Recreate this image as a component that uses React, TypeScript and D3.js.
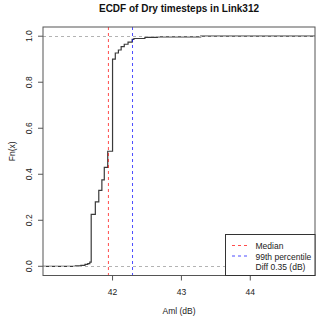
import React, { useEffect, useRef } from 'react';
import * as d3 from 'd3';

// ECDF knots (Aml, dB) and Fn(x) after each step
const knots = [41.46, 41.54, 41.6, 41.64, 41.67, 41.69, 41.75, 41.8, 41.845, 41.88, 41.93, 42.0, 42.04, 42.085, 42.125, 42.17, 42.225, 42.285, 42.31, 42.47, 42.65, 43.28];
const fnValues = [0.002, 0.004, 0.008, 0.012, 0.018, 0.226, 0.28, 0.33, 0.376, 0.43, 0.5, 0.9, 0.927, 0.94, 0.955, 0.965, 0.974, 0.986, 0.99, 0.995, 0.997, 1.0];

const xTicks = [42, 43, 44];
const yTicks = [0, 0.2, 0.4, 0.6, 0.8, 1.0];

const median = 41.94;
const p99 = 42.29;

const legendLabels = ['Median', '99th percentile', 'Diff 0.35 (dB)'];
const legendColors = ['red', 'blue', null];

const W = 320;
const H = 321;
const FONT = '"Liberation Sans", Arial, Helvetica, sans-serif';

const App = () => {
  const ref = useRef<HTMLDivElement>(null);

  useEffect(() => {
    document.body.style.margin = '0';
    const root = d3.select(ref.current);
    root.selectAll('*').remove();

    const svg = root.append('svg')
      .attr('width', W)
      .attr('height', H)
      .style('display', 'block')
      .style('font-family', FONT);

    const left = 43, right = 315, top = 27, bottom = 275.5;

    const x = d3.scaleLinear().domain([40.99, 44.94]).range([left, right]);
    const y = d3.scaleLinear().domain([-0.04, 1.04]).range([bottom, top]);

    // title
    svg.append('text')
      .attr('x', (left + right) / 2)
      .attr('y', 11.5)
      .attr('text-anchor', 'middle')
      .attr('font-weight', 'bold')
      .attr('font-size', 10)
      .attr('fill', '#111')
      .text('ECDF of Dry timesteps in Link312');

    // ecdf step line
    const pts: [number, number][] = [[x.domain()[0], 0]];
    knots.forEach((k, i) => pts.push([k, fnValues[i]]));
    pts.push([x.domain()[1], 1]);

    const line = d3.line<[number, number]>()
      .x(d => x(d[0]))
      .y(d => y(d[1]))
      .curve(d3.curveStepAfter);

    svg.append('path')
      .attr('d', line(pts))
      .attr('fill', 'none')
      .attr('stroke', '#3a3a3a')
      .attr('stroke-width', 1.2);

    // 0 / 1 reference lines
    svg.selectAll('.ref01')
      .data([0, 1])
      .enter()
      .append('line')
      .attr('x1', left)
      .attr('x2', right)
      .attr('y1', d => Math.round(y(d)) + 0.5)
      .attr('y2', d => Math.round(y(d)) + 0.5)
      .attr('stroke', '#b3b3b3')
      .attr('stroke-dasharray', '3,3');

    // median and 99th percentile
    svg.selectAll('.vline')
      .data([{ v: median, c: 'red' }, { v: p99, c: 'blue' }])
      .enter()
      .append('line')
      .attr('x1', d => x(d.v))
      .attr('x2', d => x(d.v))
      .attr('y1', top)
      .attr('y2', bottom)
      .attr('stroke', d => d.c)
      .attr('stroke-opacity', 0.7)
      .attr('stroke-dasharray', '3,3');

    // box
    svg.append('rect')
      .attr('x', left)
      .attr('y', top)
      .attr('width', right - left)
      .attr('height', bottom - top)
      .attr('fill', 'none')
      .attr('stroke', '#555');

    // x axis
    const xAxis = svg.append('g');
    xAxis.selectAll('line')
      .data(xTicks)
      .enter()
      .append('line')
      .attr('x1', d => x(d))
      .attr('x2', d => x(d))
      .attr('y1', bottom)
      .attr('y2', bottom + 5)
      .attr('stroke', '#555');
    xAxis.selectAll('text')
      .data(xTicks)
      .enter()
      .append('text')
      .attr('x', d => x(d))
      .attr('y', 294.5)
      .attr('text-anchor', 'middle')
      .attr('font-size', 8.5)
      .attr('fill', '#222')
      .text(d => d);

    // y axis
    const yAxis = svg.append('g');
    yAxis.selectAll('line')
      .data(yTicks)
      .enter()
      .append('line')
      .attr('x1', left - 5)
      .attr('x2', left)
      .attr('y1', d => y(d))
      .attr('y2', d => y(d))
      .attr('stroke', '#555');
    yAxis.selectAll('text')
      .data(yTicks)
      .enter()
      .append('text')
      .attr('transform', d => `translate(32, ${y(d)}) rotate(-90)`)
      .attr('text-anchor', 'middle')
      .attr('font-size', 8.5)
      .attr('fill', '#222')
      .text(d => d.toFixed(1));

    // axis titles
    svg.append('text')
      .attr('x', (left + right) / 2)
      .attr('y', 314)
      .attr('text-anchor', 'middle')
      .attr('font-size', 8.5)
      .attr('fill', '#222')
      .text('Aml (dB)');
    svg.append('text')
      .attr('transform', `translate(14.5, ${(top + bottom) / 2}) rotate(-90)`)
      .attr('text-anchor', 'middle')
      .attr('font-size', 8.5)
      .attr('fill', '#222')
      .text('Fn(x)');

    // legend
    const lg = svg.append('g');
    lg.append('rect')
      .attr('x', 225.5)
      .attr('y', 234.5)
      .attr('width', right - 225.5)
      .attr('height', bottom - 234.5)
      .attr('fill', 'white')
      .attr('stroke', '#333');
    legendLabels.forEach((lab, i) => {
      const cy = 245.5 + i * 10.5;
      const c = legendColors[i];
      if (c) {
        lg.append('line')
          .attr('x1', 232)
          .attr('x2', 248)
          .attr('y1', cy)
          .attr('y2', cy)
          .attr('stroke', c)
          .attr('stroke-opacity', 0.7)
          .attr('stroke-dasharray', '3,3');
      }
      lg.append('text')
        .attr('x', 255.5)
        .attr('y', cy + 3.5)
        .attr('font-size', 8.5)
        .attr('fill', '#222')
        .text(lab);
    });
  }, []);

  return <div ref={ref} />;
};

export default App;
